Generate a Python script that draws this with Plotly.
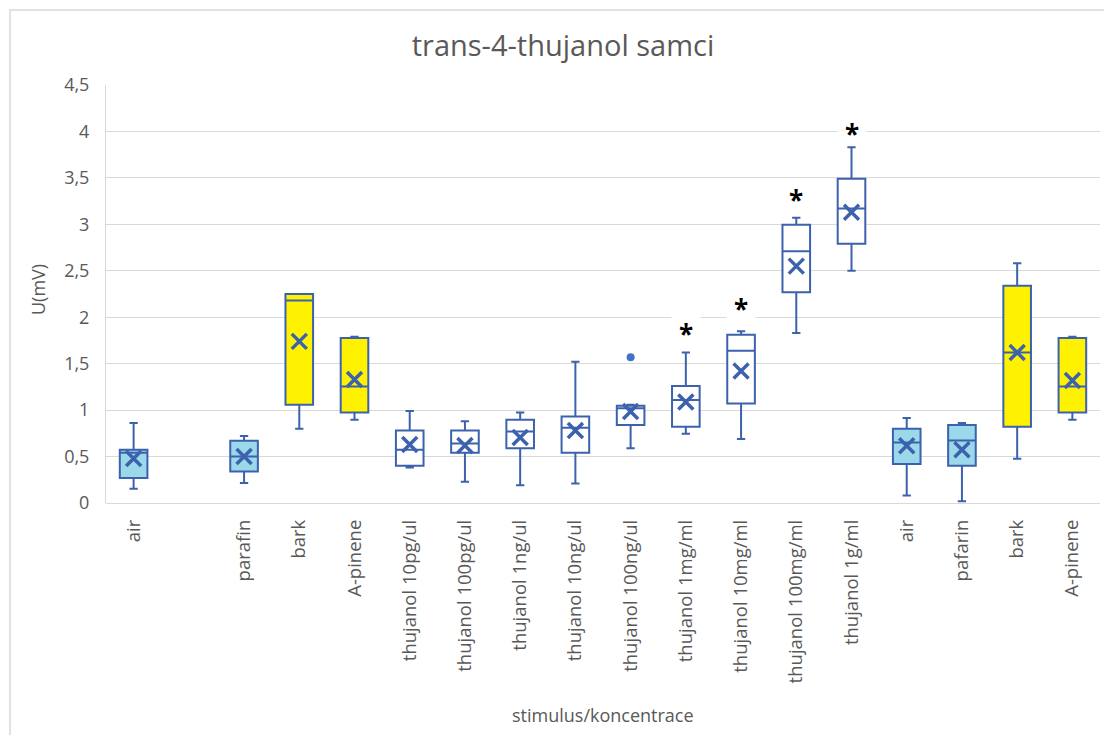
import plotly.graph_objects as go

# stimulus order on the x axis (one empty slot after the first "air")
labels = [
    "air", "", "parafin", "bark", "A-pinene",
    "thujanol 10pg/ul", "thujanol 100pg/ul", "thujanol 1ng/ul",
    "thujanol 10ng/ul", "thujanol 100ng/ul", "thujanol 1mg/ml",
    "thujanol 10mg/ml", "thujanol 100mg/ml", "thujanol 1g/ml",
    "air", "pafarin", "bark", "A-pinene",
]
kind = [
    "control", None, "control", "plant", "plant",
    "test", "test", "test", "test", "test", "test", "test", "test", "test",
    "control", "control", "plant", "plant",
]
low = [0.154, None, 0.215, 0.80, 0.897, 0.383, 0.23, 0.19, 0.21, 0.59,
       0.746, 0.69, 1.83, 2.50, 0.08, 0.02, 0.477, 0.897]
q1 = [0.27, None, 0.34, 1.058, 0.975, 0.40, 0.54, 0.59, 0.54, 0.84,
      0.82, 1.07, 2.27, 2.79, 0.42, 0.40, 0.82, 0.975]
median = [0.54, None, 0.50, 2.18, 1.255, 0.574, 0.64, 0.77, 0.81, 1.02,
          1.11, 1.64, 2.71, 3.17, 0.65, 0.674, 1.62, 1.255]
q3 = [0.574, None, 0.67, 2.25, 1.776, 0.78, 0.78, 0.897, 0.93, 1.047,
      1.26, 1.81, 2.996, 3.49, 0.80, 0.84, 2.34, 1.776]
high = [0.86, None, 0.72, 2.25, 1.79, 0.99, 0.88, 0.975, 1.52, 1.058,
        1.62, 1.85, 3.07, 3.83, 0.915, 0.86, 2.58, 1.79]
mean = [0.48, None, 0.50, 1.74, 1.33, 0.63, 0.62, 0.706, 0.78, 0.986,
        1.087, 1.42, 2.55, 3.13, 0.617, 0.574, 1.62, 1.32]

# outliers: (slot index, value)
outlier_idx = [9]
outlier_val = [1.57]

# significance stars: slot index and label level
star_idx = [10, 11, 12, 13]
star_level = [1.85, 2.12, 3.29, 4.01]

y_ticks = [0, 0.5, 1, 1.5, 2, 2.5, 3, 3.5, 4, 4.5]

LINE = "#3d62ad"
FILLS = {"control": "#9ad8ea", "plant": "#fff200", "test": "#ffffff"}
GRID = "#d9d9d9"
TEXT = "#595959"
FONT = "Open Sans"

# page body has an 8px margin, so lay out in page pixels minus that
OFF = 8
W, H = 1112 - OFF, 735 - OFF
PL, PR, PT, PB = 106, 1100, 85, 503  # plot area in page pixels
ML, MR, MT = PL - OFF, W - (PR - OFF), PT - OFF
MB = H - (PB - OFF)
pw, ph = PR - PL, PB - PT


def px(x):
    return (x - PL) / pw


def py(y):
    return (PB - y) / ph


fig = go.Figure()

for k, color in FILLS.items():
    idx = [i for i, v in enumerate(kind) if v == k]
    fig.add_trace(
        go.Box(
            x=idx,
            q1=[q1[i] for i in idx],
            median=[median[i] for i in idx],
            q3=[q3[i] for i in idx],
            lowerfence=[low[i] for i in idx],
            upperfence=[high[i] for i in idx],
            fillcolor=color,
            line={"color": LINE, "width": 2},
            width=0.5,
            whiskerwidth=0.3,
            boxpoints=False,
            showlegend=False,
        )
    )

idx_all = [i for i, v in enumerate(kind) if v]
fig.add_trace(
    go.Scatter(
        x=idx_all,
        y=[mean[i] for i in idx_all],
        mode="markers",
        marker={"symbol": "x-thin", "size": 15, "line": {"color": LINE, "width": 3.5}},
        showlegend=False,
    )
)
fig.add_trace(
    go.Scatter(
        x=outlier_idx,
        y=outlier_val,
        mode="markers",
        marker={"symbol": "circle", "size": 8, "color": "#4472c4"},
        showlegend=False,
    )
)

for i, lvl in zip(star_idx, star_level):
    fig.add_annotation(
        x=i, y=lvl, text="<b>*</b>", showarrow=False,
        font={"family": FONT, "size": 26, "color": "black"},
        bgcolor="white", width=26, height=26, yshift=2, valign="top",
    )

# axis titles
fig.add_annotation(
    xref="paper", yref="paper", x=0.5, y=py(715),
    text="stimulus/koncentrace", showarrow=False, yanchor="middle",
    font={"family": FONT, "size": 18, "color": TEXT},
)
fig.add_annotation(
    xref="paper", yref="paper", x=px(38), y=py(290),
    text="U(mV)", showarrow=False, textangle=-90, xanchor="center",
    font={"family": FONT, "size": 18, "color": TEXT},
)

# chart border like the spreadsheet frame
fig.add_shape(
    type="rect", xref="paper", yref="paper", layer="below",
    x0=px(10), x1=px(1125), y0=py(750), y1=py(10),
    line={"color": "#d9d9d9", "width": 1.5},
)

fig.update_layout(
    width=W,
    height=H,
    margin={"l": ML, "r": MR, "t": MT, "b": MB},
    paper_bgcolor="white",
    plot_bgcolor="white",
    boxmode="overlay",
    title={
        "text": "trans-4-thujanol samci",
        "x": (563 - OFF) / W,
        "xanchor": "center",
        "y": 1 - (46 - OFF) / H,
        "yanchor": "middle",
        "font": {"family": FONT, "size": 29, "color": TEXT},
    },
    font={"family": FONT, "color": TEXT},
)
fig.update_xaxes(
    range=[-0.5, len(labels) - 0.5],
    tickmode="array",
    tickvals=list(range(len(labels))),
    ticktext=labels,
    tickangle=-90,
    tickfont={"size": 18.5, "color": TEXT},
    ticklabelstandoff=12,
    showgrid=False,
    showline=False,
    zeroline=False,
    ticks="",
)
fig.update_yaxes(
    range=[0, 4.5],
    tickmode="array",
    tickvals=y_ticks,
    ticktext=[f"{v:g}".replace(".", ",") for v in y_ticks],
    tickfont={"size": 18, "color": TEXT},
    ticklabelstandoff=12,
    gridcolor=GRID,
    gridwidth=1,
    zeroline=True,
    zerolinecolor=GRID,
    zerolinewidth=1,
    showline=True,
    linecolor=GRID,
    ticks="",
)

fig.write_html("out.html")
